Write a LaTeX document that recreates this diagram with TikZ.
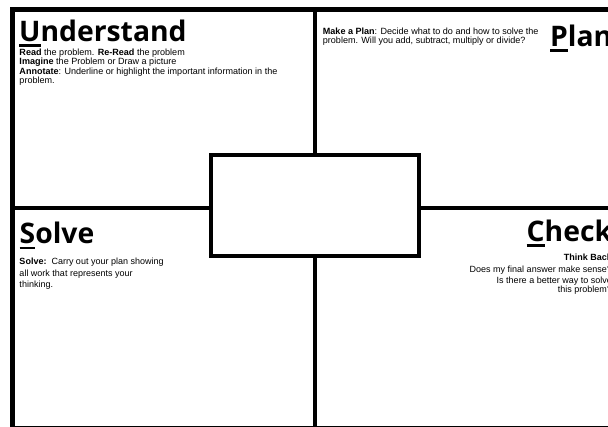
\documentclass[tikz,border=0pt]{standalone}
\usepackage{fontspec}
\setmainfont{Liberation Sans}
\newfontfamily\bodyfont{Liberation Sans}
\newfontfamily\titlefont{Open Sans}
\newcommand\firstul[1]{\setbox0\hbox{#1}\rlap{\rule[-5.4pt]{\wd0}{2.4pt}}#1}
\begin{document}
\begin{tikzpicture}[x=1pt,y=-1pt,
  heading/.style={font=\titlefont\bfseries\fontsize{28.3}{30}\selectfont, inner sep=0pt},
  bodytext/.style={font=\bodyfont\fontsize{9.05}{9}\selectfont, inner sep=0pt},
  bigtext/.style={font=\bodyfont\fontsize{9}{10}\selectfont, inner sep=0pt},
  frameline/.style={line width=5pt, draw=black},
  divider/.style={line width=4.5pt, draw=black},
  centerbox/.style={draw=black, fill=white, line width=4pt, minimum width=208pt, minimum height=101pt, inner sep=0pt}]
\useasboundingbox (0,0) rectangle (608,427);
\clip (0,0) rectangle (608,427);
\fill[white] (0,0) rectangle (608,427);
% outer frame
\draw[frameline] (12,10) rectangle (640,429);
% centre box
\node[centerbox] (box) at (315,205.5) {};
\coordinate (topmid) at (315,10);
\coordinate (botmid) at (315,429);
\coordinate (leftmid) at (12,208);
\coordinate (rightmid) at (640,208);
\draw[divider] (topmid) -- (box.north);
\draw[divider] (box.south) -- (botmid);
\draw[divider] (leftmid) -- (box.west |- leftmid);
\draw[divider] (box.east |- rightmid) -- (rightmid);
% Understand
\node[heading, anchor=base west] (ut) at (19,41.5) {\firstul{U}nderstand};
\node[bodytext, anchor=base west] (u1) at (19.3,55.7) {\textbf{Read} the problem. \textbf{Re-Read} the problem};
\node[bodytext, anchor=base west] (u2) at (19.3,65) {\textbf{Imagine} the Problem or Draw a picture};
\node[bodytext, anchor=base west] (u3) at (19.3,74.2) {\textbf{Annotate}: Underline or highlight the important information in the};
\node[bodytext, anchor=base west] (u4) at (19.3,83.4) {problem.};
% Plan
\node[bodytext, anchor=base west] (p1) at (322.7,35) {\textbf{Make a Plan}: Decide what to do and how to solve the};
\node[bodytext, anchor=base west] (p2) at (322.7,43.5) {problem. Will you add, subtract, multiply or divide?};
\node[heading, anchor=base west] (pt) at (550,46.5) {\firstul{P}lan};
% Solve
\node[heading, anchor=base west] (st) at (19.5,244) {\firstul{S}olve};
\node[bigtext, anchor=base west] (s1) at (19.3,265) {\textbf{Solve:}\ \ Carry out your plan showing};
\node[bigtext, anchor=base west] (s2) at (19.3,276.3) {all work that represents your};
\node[bigtext, anchor=base west] (s3) at (19.3,287.6) {thinking.};
% Check
\node[heading, anchor=base west] (ct) at (526.5,241.5) {\firstul{C}heck};
\node[bigtext, anchor=base east] (c1) at (612,260.5) {\textbf{Think Back}};
\node[bigtext, anchor=base east] (c2) at (612,273) {Does my final answer make sense?};
\node[bigtext, anchor=base east] (c3) at (612,283.5) {Is there a better way to solve};
\node[bigtext, anchor=base east] (c4) at (612,293) {this problem?};
\end{tikzpicture}
\end{document}
